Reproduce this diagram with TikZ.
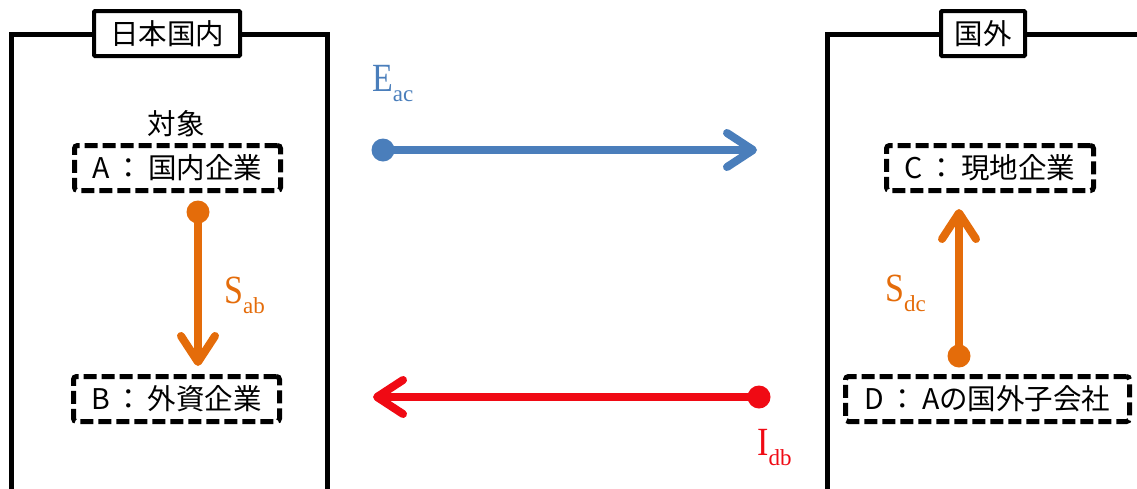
\documentclass[tikz,border=0pt]{standalone}
\usepackage{fontspec}
\setmainfont{Liberation Serif}
\newfontfamily\jpfont{Noto Sans CJK JP}
\usetikzlibrary{arrows.meta}
\definecolor{flowblue}{RGB}{74,126,187}
\definecolor{floworange}{RGB}{228,108,10}
\definecolor{flowred}{RGB}{240,10,20}
\tikzset{
  region/.style={line width=5pt},
  regiontitle/.style={draw, line width=4pt, fill=white, rounded corners=1pt,
    minimum height=45pt, inner sep=0pt, font=\jpfont\fontsize{28.5}{30}\selectfont},
  firm/.style={draw, line width=5pt, dash pattern=on 13pt off 5pt, rounded corners=3pt,
    minimum height=45pt, inner sep=0pt, font=\jpfont\fontsize{28.5}{30}\selectfont},
  flow/.style={line width=8pt, -{Straight Barb[round, length=26pt, width=34pt]}},
  rate/.style={anchor=base west, inner sep=0pt, font=\fontsize{40}{40}\selectfont}
}
\newcommand{\flowlabel}[2]{\scalebox{0.85}[1]{#1}\raisebox{-10pt}{\fontsize{23}{23}\selectfont #2}}

\begin{document}
\begin{tikzpicture}[x=1pt, y=-1pt]
  \useasboundingbox (0,0) rectangle (1137,488);
  % regions
  \draw[region] (11,490) -- (11,34) -- (327,34) -- (327,490);
  \draw[region] (827,490) -- (827,34) -- (1140,34);
  \node[regiontitle, minimum width=146pt] (japan) at (167,33.5) {日本国内};
  \node[regiontitle, minimum width=84pt] (abroad) at (983,33.5) {国外};
  % firms
  \node[firm, minimum width=206pt] (A) at (177.5,168) {A\,：\,国内企業};
  \node[font=\jpfont\fontsize{28.5}{30}\selectfont] (target) at (176,124) {対象};
  \node[firm, minimum width=206pt] (B) at (176.5,399) {B\,：\,外資企業};
  \node[firm, minimum width=207pt] (C) at (990,168) {C\,：\,現地企業};
  \node[firm, minimum width=284pt] (D) at (987.5,399) {D\,：\,Aの国外子会社};
  % flows
  \coordinate (ac0) at (383,150);
  \coordinate (ac1) at (757,150);
  \draw[flow, flowblue] (ac0) -- (ac1);
  \fill[flowblue] (ac0) circle (11.5pt);
  \node[rate, text=flowblue] (Eac) at (372,91) {\flowlabel{E}{ac}};
  \coordinate (ab0) at (198,212);
  \coordinate (ab1) at (198,366);
  \draw[flow, floworange] (ab0) -- (ab1);
  \fill[floworange] (ab0) circle (11.5pt);
  \node[rate, text=floworange] (Sab) at (224,303) {\flowlabel{S}{ab}};
  \coordinate (dc0) at (959,356);
  \coordinate (dc1) at (959,209);
  \draw[flow, floworange] (dc0) -- (dc1);
  \fill[floworange] (dc0) circle (11.5pt);
  \node[rate, text=floworange] (Sdc) at (885,301) {\flowlabel{S}{dc}};
  \coordinate (db0) at (759,397);
  \coordinate (db1) at (373,397);
  \draw[flow, flowred] (db0) -- (db1);
  \fill[flowred] (db0) circle (11.5pt);
  \node[rate, text=flowred] (Idb) at (757,455) {\flowlabel{I}{db}};
\end{tikzpicture}
\end{document}
